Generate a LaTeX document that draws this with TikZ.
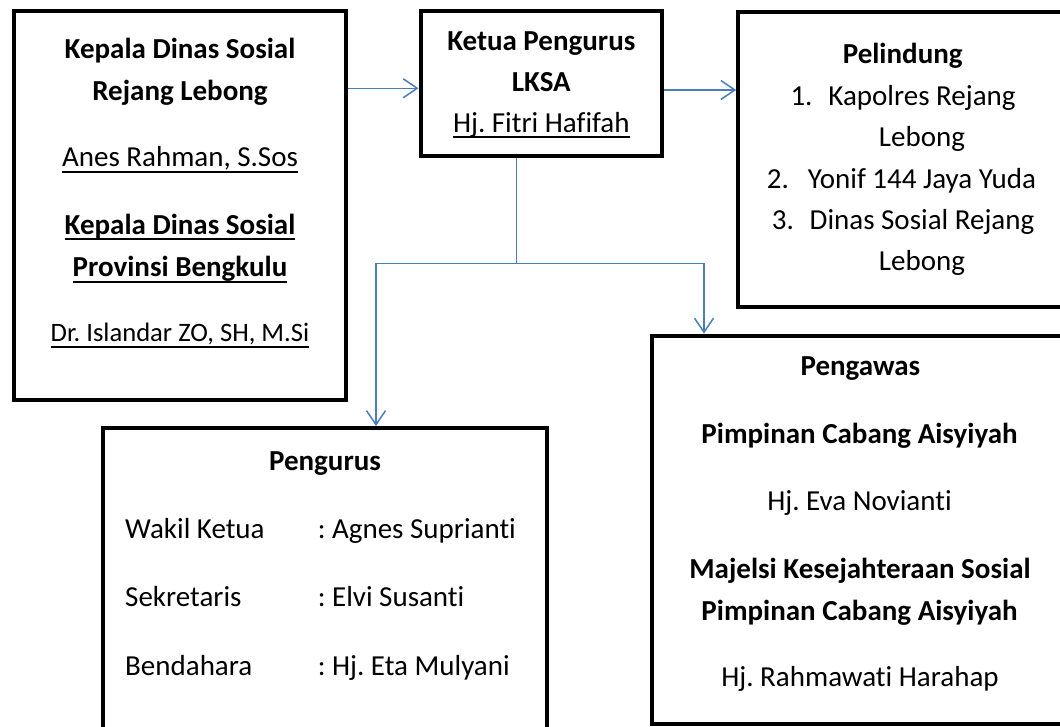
\documentclass[tikz,border=0pt]{standalone}
\usepackage{fontspec}
\setmainfont{Carlito}[Ligatures=NoCommon]
\usetikzlibrary{arrows.meta}
\definecolor{connblue}{HTML}{4A7EBB}
\frenchspacing
\newcommand\fN{\fontsize{29}{35}\selectfont}
\newcommand\fS{\fontsize{26.6}{32}\selectfont}
\newcommand\ulin[1]{\setbox0=\hbox{#1}\rlap{\rule[-6pt]{\wd0}{2pt}}\box0}
\tikzset{
  orgbox/.style={draw=black, line width=4pt, inner sep=0pt, fill=white},
  txt/.style={inner sep=0pt, anchor=base, font=\fN},
  txtb/.style={inner sep=0pt, anchor=base, font=\fN\bfseries},
  txtl/.style={inner sep=0pt, anchor=base west, font=\fN},
  conn/.style={draw=connblue, line width=1.5pt},
  connarr/.style={conn, -{Straight Barb[length=14pt,width=19pt,line width=1.5pt]}}
}
\begin{document}
\frenchspacing
\begin{tikzpicture}[x=1pt,y=-1pt]
\useasboundingbox (0,0) rectangle (1060,727);
\clip (0,0) rectangle (1060,727);
\fill[white] (0,0) rectangle (1060,727);

% boxes
\node[orgbox, minimum width=332pt, minimum height=388pt] (b1) at (180,205.5) {};
\node[orgbox, minimum width=241.5pt, minimum height=144.3pt] (b2) at (541.25,83.65) {};
\node[orgbox, minimum width=328.8pt, minimum height=295.5pt] (b3) at (902.6,159.75) {};
\node[orgbox, minimum width=416pt, minimum height=388pt] (b4) at (860,529.5) {};
\node[orgbox, minimum width=443.8pt, minimum height=332pt] (b5) at (324.6,594) {};

% connectors
\coordinate (a1) at (0,88.3);
\coordinate (a2) at (0,90);
\coordinate (j) at (516.7,263.3);
\coordinate (jl) at (376,263.3);
\coordinate (jr) at (704,263.3);
\draw[connarr] (b1.east |- a1) -- (b2.west |- a1);
\draw[connarr] (b2.east |- a2) -- (b3.west |- a2);
\draw[conn] (b2.south -| j) -- (j);
\draw[connarr] (j) -- (jl) -- (b5.north -| jl);
\draw[connarr] (j) -- (jr) -- (b4.north -| jr);

% box 1 text
\node[txtb] (k1) at (180,58.3) {Kepala Dinas Sosial};
\node[txtb] (k2) at (180,100.3) {Rejang Lebong};
\node[txt]  (k3) at (180,166.7) {\ulin{Anes Rahman, S.Sos}};
\node[txtb] (k4) at (180,234.5) {\ulin{Kepala Dinas Sosial}};
\node[txtb] (k5) at (180,276.7) {\ulin{Provinsi Bengkulu}};
\node[txt, font=\fS] (k6) at (180,341.7) {\ulin{Dr. Islandar ZO, SH, M.Si}};

% box 2 text
\node[txtb] (e1) at (541.3,50.7) {Ketua Pengurus};
\node[txtb] (e2) at (541.3,92) {LKSA};
\node[txt]  (e3) at (541.3,132.5) {\ulin{Hj. Fitri Hafifah}};

% box 3 text
\node[txtb] (p0) at (902.7,63.3) {Pelindung};
\node[txt]  (p1) at (922,105.8) {Kapolres Rejang};
\node[txt]  (p1b) at (922,146.7) {Lebong};
\node[txt]  (p2) at (922,188.3) {Yonif 144 Jaya Yuda};
\node[txt]  (p3) at (922,229.6) {Dinas Sosial Rejang};
\node[txt]  (p3b) at (922,270.5) {Lebong};
\node[txtl] (n1) at (790.3,105.8) {1.};
\node[txtl] (n2) at (766.6,188.3) {2.};
\node[txtl] (n3) at (771.7,229.6) {3.};

% box 4 text
\node[txtb] (w0) at (860.4,375) {Pengawas};
\node[txtb] (w1) at (859.5,443.3) {Pimpinan Cabang Aisyiyah};
\node[txt]  (w2) at (859.5,510) {Hj. Eva Novianti};
\node[txtb] (w3) at (860,578.3) {Majelsi Kesejahteraan Sosial};
\node[txtb] (w4) at (859.5,620) {Pimpinan Cabang Aisyiyah};
\node[txt]  (w5) at (860,686.7) {Hj. Rahmawati Harahap};

% box 5 text
\node[txtb] (r0) at (325,470) {Pengurus};
\node[txtl] (r1) at (125,538.3) {Wakil Ketua};
\node[txtl] (r1v) at (317.6,538.3) {: Agnes Suprianti};
\node[txtl] (r2) at (125,606.7) {Sekretaris};
\node[txtl] (r2v) at (317.6,606.7) {: Elvi Susanti};
\node[txtl] (r3) at (125,675.5) {Bendahara};
\node[txtl] (r3v) at (317.6,675.5) {: Hj. Eta Mulyani};
\end{tikzpicture}
\end{document}
